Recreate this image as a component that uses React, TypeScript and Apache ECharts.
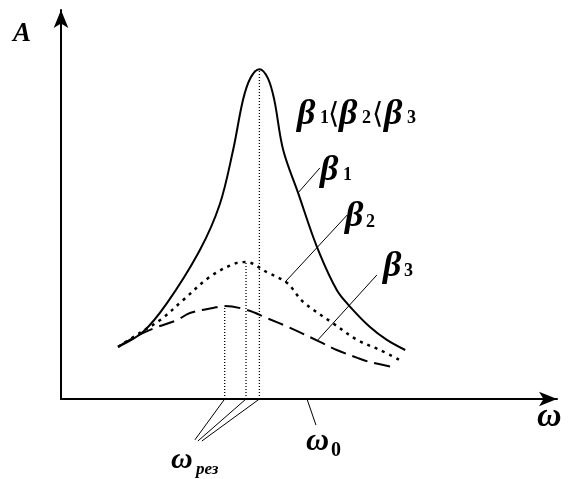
import React, { useEffect, useRef } from "react";
import * as echarts from "echarts";

// Resonance curves (x: ω in arbitrary units 0..10, y: amplitude A 0..10)
const omega1 = [1.15, 1.65, 2.14, 2.8, 3.2, 3.47, 3.67, 3.82, 4.0, 4.17, 4.3, 4.48, 4.78, 5.16, 5.56, 5.83, 6.23, 6.57, 6.94];
const amp1 = [1.34, 1.72, 2.47, 3.83, 5.0, 6.4, 7.69, 8.25, 8.48, 8.25, 7.69, 6.4, 5.3, 3.91, 2.8, 2.37, 1.85, 1.52, 1.26];

const omega2 = [1.15, 1.59, 2.0, 2.46, 3.0, 3.5, 3.73, 4.15, 4.56, 4.88, 5.48, 5.97, 6.43, 6.83];
const amp2 = [1.34, 1.7, 2.03, 2.54, 3.14, 3.48, 3.52, 3.26, 2.98, 2.5, 1.95, 1.52, 1.26, 1.0];

const omega3 = [1.15, 1.5, 1.9, 2.34, 2.6, 3.06, 3.3, 3.75, 4.15, 4.62, 5.22, 5.56, 5.99, 6.23, 6.77];
const amp3 = [1.34, 1.6, 1.83, 2.03, 2.21, 2.34, 2.39, 2.29, 2.08, 1.83, 1.47, 1.26, 1.05, 0.95, 0.8];

// resonance frequencies (peak positions) and their peak amplitudes
const omegaRes = [3.3, 3.73, 4.0];
const ampRes = [2.39, 3.52, 8.48];
// where the ω_рез pointer lines meet (below the axis)
const omegaResLabel = [2.7, 2.76, 2.84];
const ampResLabel = [-1.05, -1.08, -1.08];

const omega0 = [4.96, 5.14];
const omega0Pointer = [0, -0.67];

// leader lines for the curve labels
const leaderX = [[4.78, 5.22], [4.52, 5.77], [5.18, 6.37]];
const leaderY = [[5.3, 5.94], [3.01, 4.73], [1.52, 3.19]];

const FONT = "'Liberation Serif', 'Times New Roman', serif";

function zip(xs: number[], ys: number[]) {
  return xs.map((x, i) => [x, ys[i]]);
}

export default function App() {
  const ref = useRef<HTMLDivElement>(null);
  useEffect(() => {
    if (!ref.current) return;
    const chart = echarts.init(ref.current, null, { renderer: "svg" });

    const thin = (data: number[][], type: any = "solid", width = 1) => ({
      type: "line",
      data,
      symbol: "none",
      clip: false,
      silent: true,
      lineStyle: { color: "#000", width, type },
    });

    const series: any[] = [
      {
        type: "line",
        data: zip(omega1, amp1),
        smooth: 0.35,
        symbol: "none",
        lineStyle: { color: "#000", width: 2 },
      },
      {
        type: "line",
        data: zip(omega2, amp2),
        smooth: 0.35,
        symbol: "none",
        lineStyle: { color: "#000", width: 2.5, type: [3, 5] },
      },
      {
        type: "line",
        data: zip(omega3, amp3),
        smooth: 0.35,
        symbol: "none",
        lineStyle: { color: "#000", width: 2, type: [16, 7] },
      },
    ];
    omegaRes.forEach((w, i) => {
      series.push(thin([[w, 0], [w, ampRes[i]]], [1, 2], 1.3));
      series.push(thin([[w, 0], [omegaResLabel[i], ampResLabel[i]]]));
    });
    series.push(thin([[omega0[0], omega0Pointer[0]], [omega0[1], omega0Pointer[1]]]));
    leaderX.forEach((xs, i) => series.push(thin(zip(xs, leaderY[i]))));

    const t = (text: string, x: number, y: number, size: number, italic = true, weight = "bold", family = FONT) => ({
      type: "text",
      x,
      y,
      silent: true,
      style: {
        text,
        fill: "#000",
        font: `${italic ? "italic " : ""}${weight} ${size}px ${family}`,
        align: "left",
        verticalAlign: "top",
      },
    });
    const BR = "'DejaVu Sans', sans-serif";

    chart.setOption({
      animation: false,
      grid: { left: 61, right: 13, top: 10, bottom: 80 },
      xAxis: {
        type: "value",
        min: 0,
        max: 10,
        axisLine: { lineStyle: { color: "#000", width: 2 }, symbol: ["none", "arrow"], symbolSize: [11, 18] },
        axisTick: { show: false },
        axisLabel: { show: false },
        splitLine: { show: false },
      },
      yAxis: {
        type: "value",
        min: 0,
        max: 10,
        axisLine: { show: true, lineStyle: { color: "#000", width: 2 }, symbol: ["none", "arrow"], symbolSize: [11, 18] },
        axisTick: { show: false },
        axisLabel: { show: false },
        splitLine: { show: false },
      },
      series,
      graphic: [
        t("A", 13, 18, 27),
        t("ω", 537, 397, 34),
        // β1〈β2〈β3
        t("β", 297, 94, 36),
        t("1", 320, 108, 18, false),
        t("⟨", 328, 98, 29, false, "normal", BR),
        t("β", 339, 94, 36),
        t("2", 362, 108, 18, false),
        t("⟨", 372, 98, 29, false, "normal", BR),
        t("β", 384, 94, 36),
        t("3", 407, 108, 18, false),
        // curve labels
        t("β", 320, 150, 36),
        t("1", 343, 165, 18, false),
        t("β", 345, 196, 36),
        t("2", 366, 212, 18, false),
        t("β", 383, 246, 36),
        t("3", 404, 261, 18, false),
        // ω0
        t("ω", 306, 423, 32),
        t("0", 331, 439, 20, false),
        // ω рез
        t("ω", 171, 442, 30),
        t("рез", 196, 460, 17),
      ],
    });
    return () => chart.dispose();
  }, []);
  return <div ref={ref} style={{ position: "fixed", left: 0, top: 0, width: 570, height: 479 }} />;
}
